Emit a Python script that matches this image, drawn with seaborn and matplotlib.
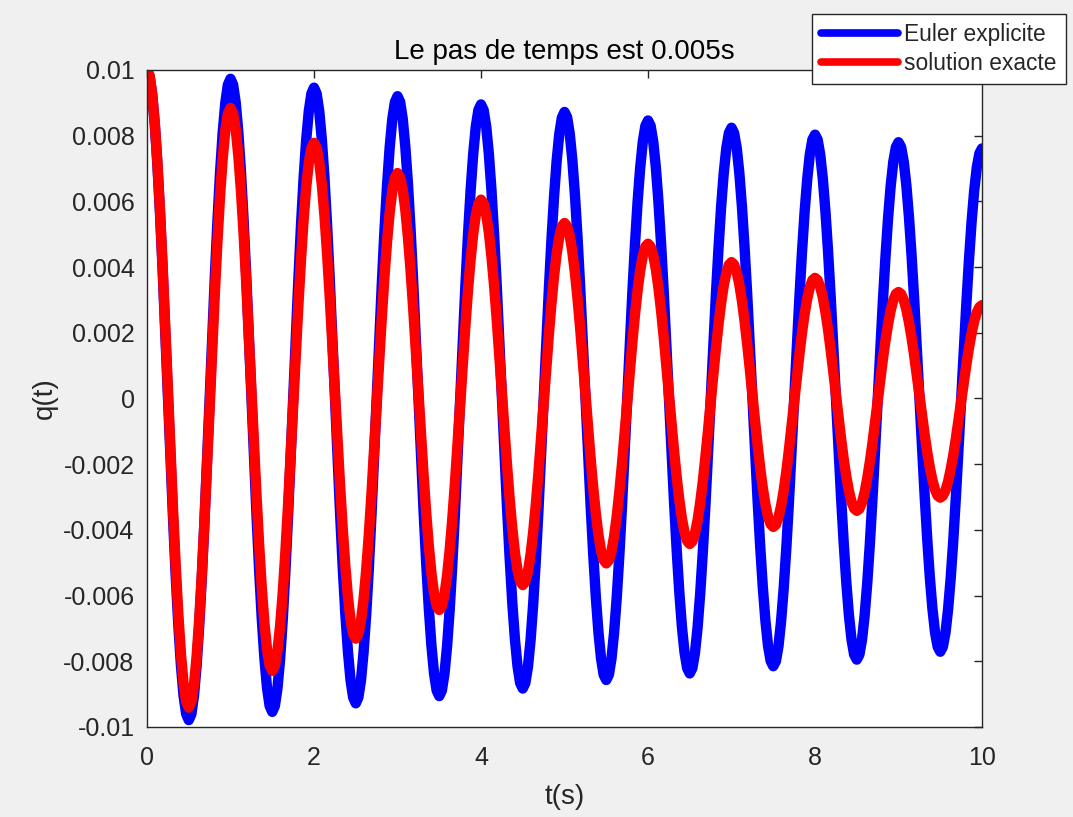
import numpy as np
import pandas as pd
import matplotlib
matplotlib.use("Agg")
import matplotlib.pyplot as plt
from matplotlib.lines import Line2D
import seaborn as sns

# q(t) in units of 1e-3, every 1/32 s (0 .. 10 s)
# one row = one half period (0.5 s)
euler_milli = [
    10.0, 9.81, 9.25, 8.33, 7.10, 5.61, 3.90, 2.04, 0.11, -1.83, -3.69, -5.40, -6.89, -8.12, -9.04, -9.60,
    -9.79, -9.61, -9.05, -8.14, -6.93, -5.46, -3.77, -1.93, -0.03, 1.87, 3.71, 5.40, 6.87, 8.08, 8.99, 9.55,
    9.73, 9.55, 9.00, 8.10, 6.91, 5.45, 3.79, 1.97, 0.10, -1.78, -3.60, -5.26, -6.72, -7.91, -8.81, -9.36,
    -9.54, -9.36, -8.82, -7.94, -6.76, -5.32, -3.68, -1.89, -0.04, 1.81, 3.60, 5.24, 6.68, 7.86, 8.74, 9.28,
    9.46, 9.28, 8.75, 7.88, 6.72, 5.30, 3.68, 1.92, 0.09, -1.74, -3.50, -5.12, -6.54, -7.70, -8.57, -9.10,
    -9.28, -9.10, -8.58, -7.72, -6.57, -5.18, -3.58, -1.84, -0.04, 1.76, 3.50, 5.10, 6.49, 7.64, 8.50, 9.02,
    9.20, 9.03, 8.51, 7.66, 6.53, 5.15, 3.57, 1.85, 0.07, -1.71, -3.43, -5.01, -6.39, -7.52, -8.37, -8.89,
    -9.06, -8.89, -8.38, -7.54, -6.42, -5.06, -3.50, -1.81, -0.06, 1.70, 3.39, 4.95, 6.31, 7.43, 8.27, 8.78,
    8.95, 8.78, 8.27, 7.45, 6.35, 5.00, 3.47, 1.79, 0.06, -1.67, -3.35, -4.88, -6.23, -7.33, -8.15, -8.66,
    -8.83, -8.66, -8.16, -7.35, -6.26, -4.93, -3.42, -1.77, -0.06, 1.66, 3.31, 4.82, 6.15, 7.24, 8.05, 8.55,
    8.72, 8.56, 8.06, 7.26, 6.19, 4.88, 3.39, 1.76, 0.08, -1.61, -3.24, -4.73, -6.04, -7.11, -7.91, -8.41,
    -8.57, -8.41, -7.92, -7.13, -6.08, -4.79, -3.32, -1.72, -0.06, 1.61, 3.21, 4.68, 5.97, 7.02, 7.81, 8.30,
    8.46, 8.30, 7.82, 7.04, 5.99, 4.72, 3.27, 1.69, 0.05, -1.60, -3.18, -4.63, -5.90, -6.95, -7.73, -8.21,
    -8.37, -8.21, -7.74, -6.97, -5.94, -4.68, -3.25, -1.68, -0.07, 1.55, 3.12, 4.55, 5.81, 6.84, 7.61, 8.08,
    8.24, 8.08, 7.62, 6.86, 5.84, 4.60, 3.18, 1.64, 0.05, -1.55, -3.09, -4.51, -5.75, -6.77, -7.53, -7.99,
    -8.15, -8.00, -7.54, -6.78, -5.78, -4.56, -3.16, -1.64, -0.06, 1.52, 3.04, 4.44, 5.66, 6.66, 7.42, 7.88,
    8.03, 7.88, 7.42, 6.68, 5.69, 4.48, 3.10, 1.60, 0.04, -1.52, -3.02, -4.40, -5.61, -6.60, -7.34, -7.80,
    -7.95, -7.80, -7.35, -6.62, -5.64, -4.45, -3.09, -1.61, -0.08, 1.46, 2.94, 4.30, 5.49, 6.47, 7.20, 7.65,
    7.80, 7.65, 7.21, 6.49, 5.53, 4.36, 3.02, 1.56, 0.05, -1.47, -2.93, -4.27, -5.44, -6.40, -7.12, -7.56,
    -7.71, -7.56, -7.13, -6.42, -5.47, -4.31, -2.98, -1.54, -0.05, 1.44, 2.88, 4.21, 5.37, 6.32, 7.03, 7.46,
    7.61,
]

exacte_milli = [
    10.0, 9.82, 9.26, 8.36, 7.16, 5.69, 4.01, 2.19, 0.30, -1.60, -3.42, -5.10, -6.57, -7.77, -8.67, -9.23,
    -9.41, -9.24, -8.72, -7.87, -6.74, -5.36, -3.78, -2.06, -0.29, 1.49, 3.21, 4.79, 6.17, 7.30, 8.15, 8.67,
    8.84, 8.68, 8.19, 7.39, 6.33, 5.04, 3.56, 1.95, 0.28, -1.40, -3.01, -4.49, -5.78, -6.84, -7.64, -8.13,
    -8.29, -8.14, -7.68, -6.93, -5.94, -4.72, -3.33, -1.82, -0.26, 1.31, 2.82, 4.21, 5.43, 6.42, 7.17, 7.63,
    7.78, 7.64, 7.21, 6.51, 5.57, 4.43, 3.13, 1.71, 0.24, -1.24, -2.66, -3.96, -5.10, -6.04, -6.74, -7.17,
    -7.31, -7.18, -6.77, -6.11, -5.23, -4.16, -2.94, -1.61, -0.23, 1.16, 2.49, 3.71, 4.78, 5.66, 6.32, 6.73,
    6.86, 6.73, 6.36, 5.74, 4.91, 3.91, 2.76, 1.51, 0.21, -1.09, -2.34, -3.49, -4.49, -5.32, -5.94, -6.31,
    -6.44, -6.32, -5.97, -5.39, -4.61, -3.67, -2.59, -1.41, -0.20, 1.02, 2.20, 3.28, 4.22, 5.00, 5.58, 5.93,
    6.05, 5.94, 5.60, 5.06, 4.33, 3.45, 2.43, 1.33, 0.19, -0.96, -2.06, -3.08, -3.96, -4.69, -5.23, -5.57,
    -5.68, -5.58, -5.26, -4.75, -4.07, -3.23, -2.28, -1.24, -0.17, 0.90, 1.94, 2.89, 3.73, 4.41, 4.92, 5.24,
    5.34, 5.24, 4.95, 4.47, 3.82, 3.04, 2.14, 1.17, 0.16, -0.85, -1.82, -2.72, -3.50, -4.15, -4.63, -4.92,
    -5.02, -4.93, -4.65, -4.20, -3.60, -2.86, -2.02, -1.10, -0.16, 0.79, 1.71, 2.55, 3.29, 3.89, 4.34, 4.62,
    4.71, 4.62, 4.36, 3.94, 3.37, 2.68, 1.89, 1.03, 0.14, -0.75, -1.61, -2.40, -3.09, -3.66, -4.08, -4.34,
    -4.43, -4.35, -4.10, -3.71, -3.17, -2.53, -1.78, -0.98, -0.14, 0.70, 1.50, 2.25, 2.89, 3.43, 3.82, 4.07,
    4.15, 4.07, 3.84, 3.47, 2.97, 2.36, 1.66, 0.91, 0.12, -0.67, -1.42, -2.12, -2.73, -3.23, -3.60, -3.83,
    -3.91, -3.84, -3.62, -3.27, -2.80, -2.23, -1.57, -0.86, -0.12, 0.62, 1.33, 1.99, 2.56, 3.03, 3.38, 3.60,
    3.67, 3.60, 3.40, 3.07, 2.63, 2.10, 1.48, 0.82, 0.13, -0.57, -1.23, -1.85, -2.38, -2.82, -3.15, -3.35,
    -3.42, -3.36, -3.17, -2.86, -2.44, -1.94, -1.37, -0.74, -0.09, 0.56, 1.19, 1.76, 2.26, 2.68, 2.99, 3.18,
    3.24, 3.18, 3.00, 2.71, 2.32, 1.85, 1.31, 0.72, 0.11, -0.50, -1.09, -1.63, -2.10, -2.49, -2.78, -2.96,
    -3.02, -2.96, -2.80, -2.53, -2.16, -1.72, -1.21, -0.66, -0.09, 0.48, 1.03, 1.54, 1.98, 2.35, 2.62, 2.78,
    2.84,
]

labels = ["Euler explicite", "solution exacte"]
colors = {"Euler explicite": "#0000ff", "solution exacte": "#ff0000"}

x_ticks = [0, 2, 4, 6, 8, 10]
y_ticks = [-0.01, -0.008, -0.006, -0.004, -0.002, 0, 0.002, 0.004, 0.006, 0.008, 0.01]
y_ticklabels = ["-0.01", "-0.008", "-0.006", "-0.004", "-0.002", "0",
                "0.002", "0.004", "0.006", "0.008", "0.01"]

t = np.arange(len(euler_milli)) / 32.0
df = pd.DataFrame({
    "t": np.concatenate([t, t]),
    "q": np.concatenate([np.array(euler_milli), np.array(exacte_milli)]) * 1e-3,
    "methode": [labels[0]] * len(t) + [labels[1]] * len(t),
})

sns.set_style("white")
plt.rcParams["font.family"] = ["Liberation Sans", "DejaVu Sans"]

fig = plt.figure(figsize=(10.73, 8.17), dpi=100, facecolor="#f0f0f0")
ax = fig.add_axes([0.137, 0.1102, 0.7782, 0.8042])
ax.set_facecolor("white")

sns.lineplot(data=df, x="t", y="q", hue="methode", palette=colors,
             estimator=None, sort=False, linewidth=7.5, legend=False, ax=ax)
for ln in ax.get_lines():
    ln.set_solid_joinstyle("round")
    ln.set_solid_capstyle("round")

ax.set_xlim(0, 10)
ax.set_ylim(-0.01, 0.01)
ax.set_xticks(x_ticks)
ax.set_xticklabels([str(v) for v in x_ticks])
ax.set_yticks(y_ticks)
ax.set_yticklabels(y_ticklabels)
ax.tick_params(direction="in", length=6, width=1, top=True, right=True,
               labelsize=18, color="#262626", labelcolor="#262626")
ax.tick_params(axis="x", pad=14)
ax.tick_params(axis="y", pad=9)
for sp in ax.spines.values():
    sp.set_color("#262626")
    sp.set_linewidth(1)

ax.set_title("Le pas de temps est 0.005s", fontsize=20, pad=8, color="black")
ax.set_xlabel("t(s)", fontsize=20, color="#262626", labelpad=10)
ax.set_ylabel("q(t)", fontsize=20, color="#262626", labelpad=4)

handles = [Line2D([], [], color=colors[l], lw=5.5) for l in labels]
leg = ax.legend(handles, labels, loc="upper left", bbox_to_anchor=(0.7565, 0.9825),
                bbox_transform=fig.transFigure, fontsize=16.4, frameon=True,
                fancybox=False, framealpha=1, edgecolor="#262626",
                borderpad=0.4, handlelength=3.4, handletextpad=0.25,
                labelspacing=0.25, borderaxespad=0)
leg.get_frame().set_linewidth(1)
for txt in leg.get_texts():
    txt.set_color("#262626")

fig.savefig("out.png", dpi=100, facecolor=fig.get_facecolor())
